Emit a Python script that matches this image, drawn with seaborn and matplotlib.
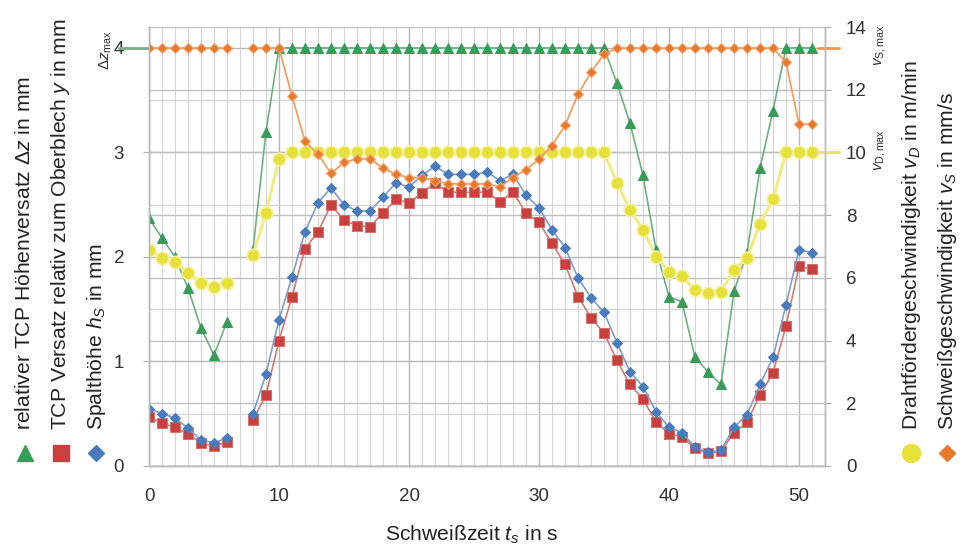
import numpy as np
import pandas as pd
import matplotlib.pyplot as plt
import matplotlib.lines as mlines
import matplotlib.transforms as mtransforms
import seaborn as sns

sns.set_style("white")
plt.rcParams['font.family'] = ['Liberation Sans', 'DejaVu Sans']
plt.rcParams['mathtext.fontset'] = 'custom'
plt.rcParams['mathtext.rm'] = 'Liberation Sans'
plt.rcParams['mathtext.it'] = 'Liberation Sans:italic'

# Schweisszeit in s (bei t=7 fehlt der Messwert)
t1 = [0, 1, 2, 3, 4, 5, 6]
t2 = list(range(8, 52))

# relativer TCP Hoehenversatz dz in mm
dz1 = [2.37, 2.18, 2.00, 1.70, 1.32, 1.06, 1.38]
dz2 = [2.07, 3.20, 4.0, 4.0, 4.0, 4.0, 4.0, 4.0, 4.0, 4.0, 4.0, 4.0,
       4.0, 4.0, 4.0, 4.0, 4.0, 4.0, 4.0, 4.0, 4.0, 4.0, 4.0, 4.0, 4.0, 4.0,
       4.0, 4.0, 3.66, 3.28, 2.78, 2.07, 1.62, 1.57, 1.04, 0.90, 0.78, 1.67,
       2.04, 2.85, 3.40, 4.0, 4.0, 4.0]

# TCP Versatz relativ zum Oberblech y in mm
y1 = [0.47, 0.41, 0.37, 0.31, 0.22, 0.19, 0.23]
y2 = [0.44, 0.68, 1.20, 1.62, 2.08, 2.24, 2.50, 2.35, 2.30, 2.29, 2.42, 2.55,
      2.52, 2.61, 2.71, 2.62, 2.62, 2.62, 2.62, 2.53, 2.62, 2.42, 2.33, 2.13,
      1.93, 1.62, 1.42, 1.27, 1.01, 0.78, 0.64, 0.42, 0.31, 0.28, 0.17, 0.12,
      0.14, 0.32, 0.42, 0.68, 0.89, 1.34, 1.91, 1.88]

# Spalthoehe h_S in mm
hs1 = [0.55, 0.50, 0.46, 0.36, 0.25, 0.22, 0.27]
hs2 = [0.50, 0.88, 1.40, 1.81, 2.24, 2.52, 2.66, 2.50, 2.44, 2.44, 2.57, 2.71,
       2.67, 2.78, 2.87, 2.79, 2.79, 2.79, 2.81, 2.73, 2.79, 2.59, 2.47, 2.26,
       2.09, 1.80, 1.61, 1.47, 1.18, 0.90, 0.76, 0.52, 0.37, 0.32, 0.18, 0.13,
       0.15, 0.37, 0.49, 0.78, 1.04, 1.54, 2.07, 2.04]

# Drahtfoerdergeschwindigkeit v_D in m/min
vd1 = [6.90, 6.64, 6.50, 6.16, 5.85, 5.72, 5.85]
vd2 = [6.74, 8.08, 9.80, 10, 10, 10, 10, 10, 10, 10, 10, 10, 10, 10, 10, 10,
       10, 10, 10, 10, 10, 10, 10, 10, 10, 10, 10, 10, 9.04, 8.15, 7.54, 6.68,
       6.20, 6.07, 5.60, 5.53, 5.56, 6.26, 6.64, 7.73, 8.50, 10, 10, 10]

# Schweissgeschwindigkeit v_S in mm/s
vs1 = [13.33, 13.33, 13.33, 13.33, 13.33, 13.33, 13.33]
vs2 = [13.33, 13.33, 13.33, 11.80, 10.35, 9.94, 9.33, 9.68, 9.80, 9.80, 9.50,
       9.30, 9.20, 9.20, 9.10, 9.00, 9.00, 9.00, 9.00, 8.90, 9.20, 9.45, 9.78,
       10.22, 10.86, 11.85, 12.56, 13.13, 13.33, 13.33, 13.33, 13.33, 13.33,
       13.33, 13.33, 13.33, 13.33, 13.33, 13.33, 13.33, 13.33, 12.87, 10.90,
       10.90]

dz_max = 4.0
vs_max = 13.33
vd_max = 10.0

df = pd.DataFrame({
    't': t1 + t2,
    'seg': [0] * len(t1) + [1] * len(t2),
    'dz': dz1 + dz2,
    'y': y1 + y2,
    'hs': hs1 + hs2,
    'vd': vd1 + vd2,
    'vs': vs1 + vs2,
})

GREEN = '#3a9a58'
RED = '#c8413f'
BLUE = '#4a7bbd'
YELLOW = '#e6e03a'
ORANGE = '#e8782a'

W, H = 971, 547
fig = plt.figure(figsize=(W / 100, H / 100), dpi=100)
rect = [149 / W, 1 - 466 / H, 676 / W, 439 / H]

# Gitter in eigenen Achsen hinter den Daten
gx = fig.add_axes(rect)
gx.set_zorder(0)
gx.set_xlim(0, 52)
gx.set_ylim(0, 4.2)
gx.set_xticks(np.arange(0, 53, 10))
gx.set_xticks(np.arange(0, 53, 1), minor=True)
gx.set_yticks(np.arange(0, 4.21, 1))
gx.set_yticks(np.arange(0, 4.21, 0.5), minor=True)
gx.grid(True, which='major', color='#b8b8b8', linewidth=1.0)
gx.grid(True, which='minor', color='#d4d4d4', linewidth=0.8)
gx.tick_params(which='both', length=0, labelleft=False, labelbottom=False)
for s in gx.spines.values():
    s.set_visible(False)
gx2 = gx.twinx()
gx2.set_ylim(0, 14)
gx2.set_yticks(np.arange(0, 14.1, 2))
gx2.grid(True, axis='y', color='#c0c0c0', linewidth=1.0)
gx2.tick_params(length=0, labelright=False)
for s in gx2.spines.values():
    s.set_visible(False)

ax = fig.add_axes(rect)
ax.set_zorder(2)
ax.patch.set_visible(False)
ax2 = ax.twinx()
ax2.set_zorder(3)
ax2.patch.set_visible(False)

# rechte Achse
sns.lineplot(data=df, x='t', y='vd', units='seg', estimator=None, ax=ax2,
             color='#f0ec80', linewidth=2.2, marker='o', markersize=9,
             markerfacecolor=YELLOW, markeredgecolor='#f4f0a0',
             markeredgewidth=1.2, legend=False)
sns.lineplot(data=df, x='t', y='vs', units='seg', estimator=None, ax=ax2,
             color='#f0a060', linewidth=1.3, marker='D', markersize=5.5,
             markerfacecolor=ORANGE, markeredgecolor='#f2a878',
             markeredgewidth=0.8, legend=False)

# linke Achse
sns.lineplot(data=df, x='t', y='dz', units='seg', estimator=None, ax=ax,
             color='#6fae86', linewidth=1.2, marker='^', markersize=6.5,
             markerfacecolor=GREEN, markeredgecolor=GREEN, legend=False)
sns.lineplot(data=df, x='t', y='y', units='seg', estimator=None, ax=ax,
             color='#d07a78', linewidth=1.2, marker='s', markersize=7,
             markerfacecolor=RED, markeredgecolor='#d8706e', legend=False)
sns.lineplot(data=df, x='t', y='hs', units='seg', estimator=None, ax=ax,
             color='#7f9ec8', linewidth=1.2, marker='D', markersize=5,
             markerfacecolor=BLUE, markeredgecolor=BLUE, legend=False)

ax.set_xlim(0, 52)
ax.set_ylim(0, 4.2)
ax2.set_ylim(0, 14)
ax.set_xticks(np.arange(0, 51, 10))
ax.set_yticks([0, 1, 2, 3, 4])
ax2.set_yticks(np.arange(0, 15, 2))
ax.set_xlabel('')
ax.set_ylabel('')
ax2.set_ylabel('')
fs = 13.5
lfs = 15.2
ax.tick_params(axis='x', labelsize=fs, colors='#333333', length=4, pad=12,
               color='#b0b0b0')
ax.tick_params(axis='y', labelsize=fs, colors='#333333', length=4, pad=14,
               color='#b0b0b0')
ax2.tick_params(axis='y', labelsize=fs, colors='#333333', length=4, pad=11,
                color='#b0b0b0')
for a in (ax, ax2):
    for name, s in a.spines.items():
        s.set_color('#b8b8b8')
        s.set_linewidth(1.0)
    a.spines['top'].set_visible(False)

# Grenzlinien ueber den Rand hinaus
trl = mtransforms.blended_transform_factory(ax.transAxes, ax.transData)
ax.plot([-0.045, 0], [dz_max, dz_max], transform=trl, clip_on=False,
        color='#7aa88a', linewidth=2)
trr = mtransforms.blended_transform_factory(ax2.transAxes, ax2.transData)
ax2.plot([0.99, 1.02], [vs_max, vs_max], transform=trr, clip_on=False,
         color='#ee9a50', linewidth=2)
ax2.plot([0.99, 1.02], [vd_max, vd_max], transform=trr, clip_on=False,
         color='#eee070', linewidth=2)

fig.text(106 / W, 1 - 50 / H, r'$\Delta z_{\mathrm{max}}$', rotation=90,
         ha='center', va='center', fontsize=11, color='#333333')
fig.text(880 / W, 1 - 45 / H, r'$v_{\mathrm{S,max}}$', rotation=90,
         ha='center', va='center', fontsize=11, color='#333333')
fig.text(880 / W, 1 - 150 / H, r'$v_{\mathrm{D,max}}$', rotation=90,
         ha='center', va='center', fontsize=11, color='#333333')

# Achsentitel
left_labels = [
    (25, 'relativer TCP Höhenversatz $\\Delta z$ in mm', '^', GREEN),
    (61, 'TCP Versatz relativ zum Oberblech $y$ in mm', 's', RED),
    (96, 'Spalthöhe $h_S$ in mm', 'D', BLUE),
]
right_labels = [
    (911, 'Drahtfördergeschwindigkeit $v_D$ in m/min', 'o', YELLOW),
    (947, 'Schweißgeschwindigkeit $v_S$ in mm/s', 'D', ORANGE),
]
for xp, txt, mk, col in left_labels + right_labels:
    fig.text(xp / W, 1 - 430 / H, txt, rotation=90, ha='center', va='bottom',
             fontsize=lfs, color='#222222')
    ms = {'^': 11, 's': 11, 'D': 8, 'o': 13}[mk]
    fig.add_artist(mlines.Line2D([xp / W], [1 - 453 / H], marker=mk,
                                 markersize=ms, color=col, linestyle='none',
                                 transform=fig.transFigure))

fig.text(472 / W, 1 - 535 / H, 'Schweißzeit $t_s$ in s', ha='center',
         va='center', fontsize=lfs, color='#222222')

fig.savefig('out.png', dpi=100)
